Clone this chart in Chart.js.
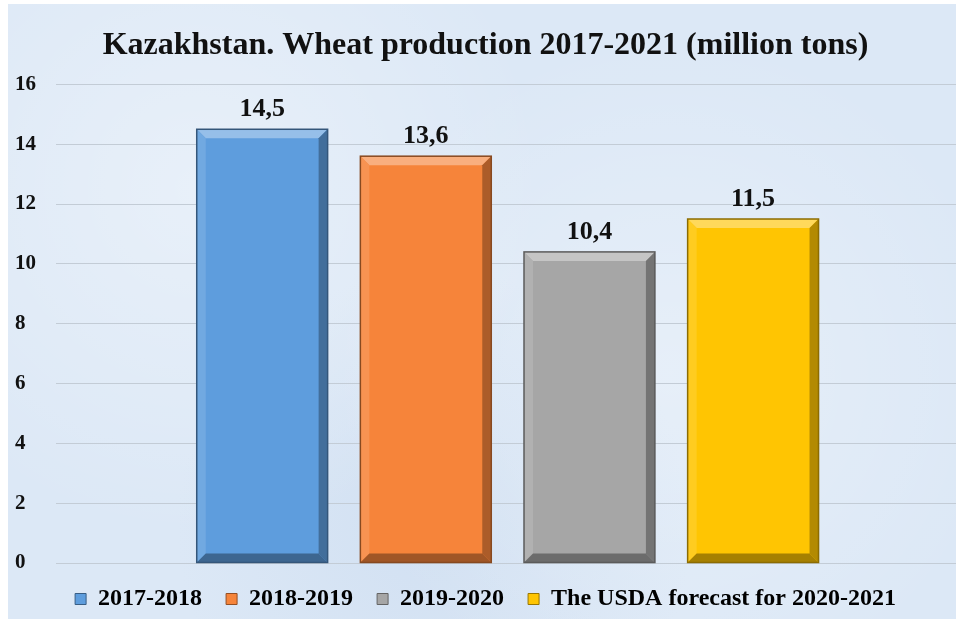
<!DOCTYPE html>
<html lang="en">
<head>
    <meta charset="UTF-8">
    <title>Kazakhstan. Wheat production 2017-2021</title>
    <script src="https://cdn.jsdelivr.net/npm/chart.js"></script>
    <style>
        html, body { margin: 0; padding: 0; background: #fff; }
        .panel {
            position: absolute; left: 8px; top: 4px; width: 948px; height: 615px;
            background-color: #dce8f6;
            background-image:
                radial-gradient(circle at 20% 30%, rgba(255,255,255,0.35), transparent 40%),
                radial-gradient(circle at 70% 60%, rgba(255,255,255,0.3), transparent 45%),
                radial-gradient(circle at 45% 85%, rgba(190,210,235,0.35), transparent 35%);
        }
    </style>
</head>
<body>
    <div class="panel">
        <canvas id="wheatChart" width="948" height="615"></canvas>
    </div>

    <script>
        // Data
        const seasons = ['2017-2018', '2018-2019', '2019-2020', 'The USDA forecast for 2020-2021'];
        const production = [14.5, 13.6, 10.4, 11.5];
        const barColors = ['#5e9ddd', '#f6843a', '#a6a6a6', '#ffc502'];
        const yTicks = [0, 2, 4, 6, 8, 10, 12, 14, 16];

        const serif = '"Liberation Serif", "Times New Roman", serif';

        function shade(hex, amt) {
            const n = parseInt(hex.slice(1), 16);
            let r = n >> 16, g = (n >> 8) & 255, b = n & 255;
            const t = amt < 0 ? 0 : 255, p = Math.abs(amt);
            r = Math.round((t - r) * p + r);
            g = Math.round((t - g) * p + g);
            b = Math.round((t - b) * p + b);
            return `rgb(${r},${g},${b})`;
        }

        // beveled bar look + value labels
        const bevelPlugin = {
            id: 'bevel',
            afterDatasetsDraw(chart) {
                const ctx = chart.ctx;
                const meta = chart.getDatasetMeta(0);
                meta.data.forEach((bar, i) => {
                    const c = barColors[i];
                    const w = bar.width, l = bar.x - w / 2, r = bar.x + w / 2;
                    const t = bar.y, bt = bar.base, e = 9;
                    ctx.save();
                    const poly = (pts, col) => {
                        ctx.beginPath();
                        ctx.moveTo(pts[0][0], pts[0][1]);
                        pts.slice(1).forEach(p => ctx.lineTo(p[0], p[1]));
                        ctx.closePath();
                        ctx.fillStyle = col;
                        ctx.fill();
                    };
                    poly([[l, t], [r, t], [r - e, t + e], [l + e, t + e]], shade(c, 0.35));
                    poly([[l, t], [l + e, t + e], [l + e, bt - e], [l, bt]], shade(c, 0.12));
                    poly([[r, t], [r, bt], [r - e, bt - e], [r - e, t + e]], shade(c, -0.3));
                    poly([[l, bt], [l + e, bt - e], [r - e, bt - e], [r, bt]], shade(c, -0.35));
                    ctx.strokeStyle = shade(c, -0.45);
                    ctx.lineWidth = 1.5;
                    ctx.strokeRect(l, t, w, bt - t);

                    ctx.fillStyle = '#111';
                    ctx.font = 'bold 26px ' + serif;
                    ctx.textAlign = 'center';
                    ctx.textBaseline = 'alphabetic';
                    ctx.fillText(production[i].toFixed(1).replace('.', ','), bar.x, t - 13);
                    ctx.restore();
                });
            }
        };

        new Chart(document.getElementById('wheatChart'), {
            type: 'bar',
            data: {
                datasets: [{
                    data: production.map((v, i) => ({ x: i, y: v })),
                    backgroundColor: barColors,
                    borderWidth: 0,
                    categoryPercentage: 0.8,
                    barPercentage: 1.0
                }]
            },
            options: {
                responsive: false,
                animation: false,
                layout: { padding: { left: 7, right: 0, top: 0, bottom: -2 } },
                scales: {
                    x: {
                        type: 'linear',
                        offset: false,
                        min: -1.26,
                        max: 4.24,
                        display: false
                    },
                    y: {
                        min: 0,
                        max: 16,
                        afterBuildTicks: axis => { axis.ticks = yTicks.map(v => ({ value: v })); },
                        grid: { color: '#c3ccd6', lineWidth: 1, drawTicks: false },
                        border: { display: false },
                        ticks: {
                            crossAlign: 'far',
                            padding: 10,
                            color: '#111',
                            font: { family: serif, size: 21, weight: 'bold' }
                        }
                    }
                },
                plugins: {
                    title: {
                        display: true,
                        text: 'Kazakhstan. Wheat production 2017-2021 (million tons)',
                        color: '#111',
                        font: { family: serif, size: 32, weight: 'bold' },
                        padding: { top: 23, bottom: 19 }
                    },
                    legend: {
                        position: 'bottom',
                        labels: {
                            color: '#111',
                            font: { family: serif, size: 24, weight: 'bold' },
                            boxWidth: 11,
                            boxHeight: 11,
                            padding: 24,
                            generateLabels: () => seasons.map((s, i) => ({
                                text: s,
                                fillStyle: barColors[i],
                                strokeStyle: shade(barColors[i], -0.4),
                                lineWidth: 1,
                                index: i
                            }))
                        },
                        onClick: null
                    },
                    tooltip: { enabled: false }
                }
            },
            plugins: [bevelPlugin]
        });
    </script>
</body>
</html>
